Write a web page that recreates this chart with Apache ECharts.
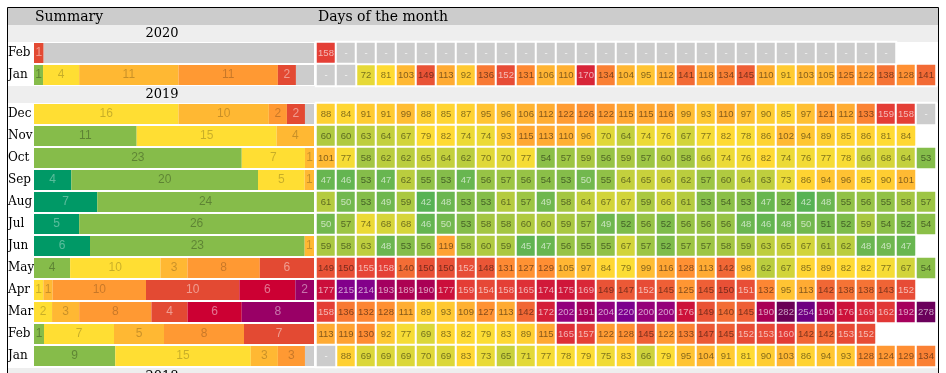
<!DOCTYPE html>
<html><head><meta charset="utf-8">
<script src="https://cdn.jsdelivr.net/npm/echarts@6/dist/echarts.min.js"></script>
<style>html,body{margin:0;padding:0;background:#fff}#c{width:946px;height:373px}</style>
</head><body><div id="c"></div><script>
// ---------- DATA ----------
const days = [1,2,3,4,5,6,7,8,9,10,11,12,13,14,15,16,17,18,19,20,21,22,23,24,25,26,27,28,29,30,31];
const rows2020 = ['Feb','Jan'];
const rows2019 = ['Dec','Nov','Oct','Sep','Aug','Jul','Jun','May','Apr','Mar','Feb','Jan'];

// daily AQI values (null = no data)
const feb2020 = [158,null,null,null,null,null,null,null,null,null,null,null,null,null,null,null,null,null,null,null,null,null,null,null,null,null,null,null,null];
const jan2020 = [null,null,72,81,103,149,113,92,136,152,131,106,110,170,134,104,95,112,141,118,134,145,110,91,103,105,125,122,138,128,141];
const dec2019 = [88,84,91,91,99,88,85,87,95,96,106,112,122,126,122,115,115,116,99,93,110,97,90,85,97,121,112,133,159,158,null];
const nov2019 = [60,60,63,64,67,79,82,74,74,93,115,113,110,96,70,64,74,76,67,77,82,78,86,102,94,89,85,86,81,84];
const oct2019 = [101,77,58,62,62,65,64,62,70,70,77,54,57,59,56,59,57,60,58,66,74,76,82,74,76,77,78,66,68,64,53];
const sep2019 = [47,46,53,47,62,55,53,47,56,57,56,54,53,50,55,64,65,66,62,57,60,64,63,73,86,94,96,85,90,101];
const aug2019 = [61,50,53,49,59,42,48,53,53,61,57,49,58,64,67,67,59,66,61,53,54,53,47,52,42,48,55,56,55,58,57];
const jul2019 = [50,57,74,68,68,46,50,53,58,58,60,60,59,57,49,52,56,52,56,56,56,48,46,48,50,51,52,59,54,52,54];
const jun2019 = [59,58,63,48,53,56,119,58,60,59,45,47,56,55,55,67,57,52,57,57,58,59,63,65,67,61,62,48,49,47];
const may2019 = [149,150,155,158,140,150,150,152,148,131,127,129,105,97,84,79,99,116,128,113,142,98,62,67,85,89,82,82,77,67,54];
const apr2019 = [177,215,214,193,189,190,177,159,154,158,165,174,175,169,149,147,152,145,125,145,150,151,132,95,113,142,138,138,143,152];
const mar2019 = [158,136,132,128,111,89,93,109,127,113,142,172,202,191,204,220,200,200,176,149,140,145,190,282,254,190,176,169,162,192,278];
const feb2019 = [113,119,130,92,77,69,83,82,79,83,89,115,165,157,122,128,145,122,133,147,145,152,153,160,142,142,153,152];
const jan2019 = [null,88,69,69,69,70,69,83,73,65,71,77,78,79,75,83,66,79,95,104,91,81,90,103,86,94,93,128,124,129,134];

// summary: days per category, rows = Feb20, Jan20, Dec19 ... Jan19
const sumCategories = ['0-50','50-75','75-100','100-125','125-150','150-175','175-200','200-300','No data'];
const cntGood      = [0,0, 0,0,0,4,7,5,6,0,0,0,0,0];
const cntGreen     = [0,1, 0,11,23,20,24,26,23,4,0,0,1,9];
const cntYellow    = [0,4, 16,15,7,5,0,0,0,10,1,2,7,15];
const cntLightOr   = [0,11, 10,4,1,1,0,0,1,3,1,3,5,3];
const cntOrange    = [0,11, 2,0,0,0,0,0,0,8,10,8,8,3];
const cntRed       = [1,2, 2,0,0,0,0,0,0,6,10,4,7,0];
const cntCrimson   = [0,0, 0,0,0,0,0,0,0,0,6,6,0,0];
const cntPurple    = [0,0, 0,0,0,0,0,0,0,0,2,8,0,0];
const cntMissing   = [28,2, 1,0,0,0,0,0,0,0,0,0,0,1];

// ---------- STYLES ----------
const catColors = ['#009966','#86bc4a','#ffde33','#ffb833','#ff9933','#e34a33','#cc0033','#990066','#cccccc'];
const catLabel = ['rgba(255,255,255,0.35)','rgba(0,0,0,0.3)','rgba(0,0,0,0.22)','rgba(0,0,0,0.22)','rgba(0,0,0,0.22)','rgba(255,255,255,0.45)','rgba(255,255,255,0.45)','rgba(255,255,255,0.45)','rgba(0,0,0,0)'];
const heatColors = ['#009966','#14a062','#28a65e','#3caa5a','#50b056','#72b84e','#b0ca40','#e0d838','#ffdd33','#ffcd32','#ffbb33',
  '#ffb033','#ffa033','#ff8c33','#f36d35','#e85036','#e33b36','#d82538','#c6063c','#aa0055','#96007a',
  '#870088','#7c008e','#76008c','#72008a','#700088','#6e0078','#6c0066','#6a0058','#680050','#660048'];

const counts = [cntGood,cntGreen,cntYellow,cntLightOr,cntOrange,cntRed,cntCrimson,cntPurple,cntMissing];
const nRows = cntGood.length;
const totals = [];
for (let i=0;i<nRows;i++){ let s=0; counts.forEach(c=>s+=c[i]); totals.push(s); }

const chart = echarts.init(document.getElementById('c'));
const series = [];
const SANS='Liberation Sans, Arial, sans-serif';

function heatData(rows, missing){
  const out=[];
  rows.forEach((arr,r)=>arr.forEach((v,d)=>{
    if (missing && v==null) out.push([d,r,0]);
    if (!missing && v!=null) out.push([d,r,v]);
  }));
  return out;
}
function heatSeries(rows, ax){
  return {type:'heatmap', xAxisIndex:ax, yAxisIndex:ax, data:heatData(rows,false),
    itemStyle:{borderColor:'#fff', borderWidth:2},
    emphasis:{disabled:true},
    label:{show:true, formatter:function(p){const v=p.value[2]; return (v<=50||v>150)?'{w|'+v+'}':'{d|'+v+'}';},
      rich:{w:{color:'rgba(255,255,255,0.62)',fontSize:9.5,fontFamily:SANS},
            d:{color:'rgba(0,0,0,0.5)',fontSize:9.5,fontFamily:SANS}}}};
}
function missingSeries(rows, ax){
  return {type:'heatmap', xAxisIndex:ax, yAxisIndex:ax, data:heatData(rows,true),
    itemStyle:{color:'#cccccc', borderColor:'#fff', borderWidth:2},
    emphasis:{disabled:true},
    label:{show:true, formatter:'-', color:'rgba(255,255,255,0.8)', fontSize:9.5, fontFamily:SANS}};
}
const r2020 = [feb2020,jan2020];
const r2019 = [dec2019,nov2019,oct2019,sep2019,aug2019,jul2019,jun2019,may2019,apr2019,mar2019,feb2019,jan2019];
series.push(heatSeries(r2020,1));
series.push(heatSeries(r2019,3));
series.push(missingSeries(r2020,1));
series.push(missingSeries(r2019,3));

function barSeries(ci, from, to, ax, stack){
  const data=[];
  for(let i=from;i<to;i++) data.push({value:counts[ci][i]/totals[i], count:counts[ci][i]});
  return {type:'bar', name:sumCategories[ci], stack:stack, xAxisIndex:ax, yAxisIndex:ax, barWidth:20,
    itemStyle:{color:catColors[ci]}, emphasis:{disabled:true},
    label:{show:true, position:'inside', color:catLabel[ci], fontSize:12, fontFamily:SANS,
      formatter:function(p){return p.data.count?String(p.data.count):'';}},
    data:data};
}
for(let ci=0;ci<counts.length;ci++){
  series.push(barSeries(ci,0,2,0,'s2020'));
  series.push(barSeries(ci,2,nRows,2,'s2019'));
}

const SERIF='DejaVu Serif, serif';
const monthAxisLabel = {show:true, align:'left', margin:26, fontFamily:SERIF, fontSize:12, color:'#000'};
const option = {
  animation:false,
  grid:[
    {left:34, top:42, width:280, height:44},
    {left:316, top:42, width:620, height:44},
    {left:34, top:103, width:280, height:264},
    {left:316, top:103, width:620, height:264}
  ],
  xAxis:[
    {gridIndex:0, type:'value', min:0, max:1, show:false},
    {gridIndex:1, type:'category', data:days, show:false},
    {gridIndex:2, type:'value', min:0, max:1, show:false},
    {gridIndex:3, type:'category', data:days, show:false}
  ],
  yAxis:[
    {gridIndex:0, type:'category', data:rows2020, inverse:true, axisLine:{show:false}, axisTick:{show:false}, axisLabel:monthAxisLabel},
    {gridIndex:1, type:'category', data:rows2020, inverse:true, show:false},
    {gridIndex:2, type:'category', data:rows2019, inverse:true, axisLine:{show:false}, axisTick:{show:false}, axisLabel:monthAxisLabel},
    {gridIndex:3, type:'category', data:rows2019, inverse:true, show:false}
  ],
  visualMap:{type:'continuous', show:false, seriesIndex:[0,1], dimension:2, min:0, max:300,
    inRange:{color:heatColors}},
  graphic:[
    {type:'rect', shape:{x:8,y:8,width:930,height:17}, style:{fill:'#cccccc'}, z:-1},
    {type:'rect', shape:{x:8,y:25,width:930,height:17}, style:{fill:'#eeeeee'}, z:-1},
    {type:'rect', shape:{x:8,y:86,width:930,height:17}, style:{fill:'#eeeeee'}, z:-1},
    {type:'rect', shape:{x:8,y:368,width:930,height:17}, style:{fill:'#eeeeee'}, z:-1},
    {type:'rect', shape:{x:7.5,y:7.5,width:931,height:400}, style:{fill:'none', stroke:'#000', lineWidth:1}, z:10},
    {type:'text', style:{text:'Summary', x:35, y:17, fontSize:14, fontFamily:SERIF, fill:'#000', align:'left', verticalAlign:'middle'}},
    {type:'text', style:{text:'Days of the month', x:318, y:17, fontSize:14, fontFamily:SERIF, fill:'#000', align:'left', verticalAlign:'middle'}},
    {type:'text', style:{text:'2020', x:162, y:34, fontSize:13, fontFamily:SERIF, fill:'#000', align:'center', verticalAlign:'middle'}},
    {type:'text', style:{text:'2019', x:162, y:95, fontSize:13, fontFamily:SERIF, fill:'#000', align:'center', verticalAlign:'middle'}},
    {type:'text', style:{text:'2018', x:162, y:377, fontSize:13, fontFamily:SERIF, fill:'#000', align:'center', verticalAlign:'middle'}}
  ],
  series:series
};
chart.setOption(option);
</script></body></html>
